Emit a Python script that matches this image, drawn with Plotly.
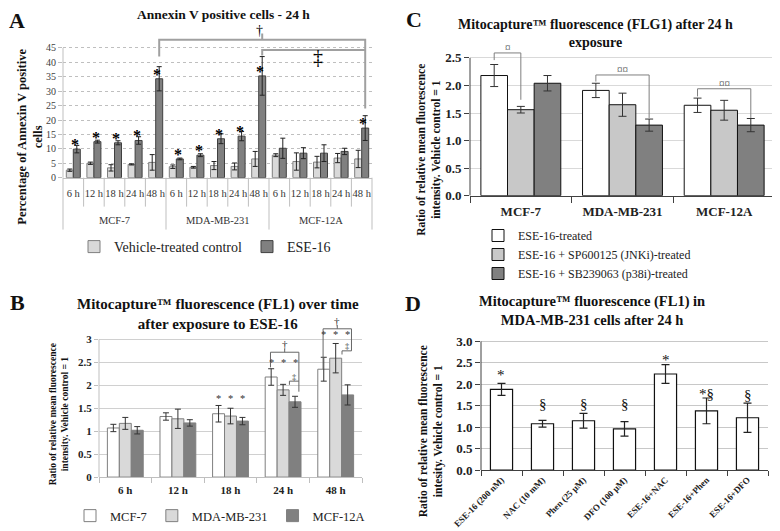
import plotly.graph_objects as go

SERIF = "Liberation Serif"
# the page body adds an 8 px margin, so the figure is drawn 8 px smaller
PAD = 8
W, H = 780 - PAD, 531 - PAD

# ---- panel A: Annexin V positive cells ----
a_lines = ["MCF-7", "MDA-MB-231", "MCF-12A"]
a_times = ["6 h", "12 h", "18 h", "24 h", "48 h"]
a_ctrl = [2.6, 5.0, 3.4, 4.6, 5.3, 3.8, 3.6, 4.2, 3.9, 6.5, 7.8, 5.6, 5.4, 6.8, 6.5]
a_ctrl_err = [0.4, 0.4, 1.1, 0.2, 2.7, 0.6, 0.3, 1.4, 1.2, 2.6, 0.5, 3.0, 2.0, 1.6, 3.0]
a_ese = [9.9, 12.5, 12.1, 12.9, 34.3, 6.5, 7.8, 13.5, 14.4, 35.3, 10.2, 8.5, 8.5, 9.1, 17.2]
a_ese_err = [1.3, 0.5, 0.7, 1.3, 4.2, 0.3, 0.5, 1.7, 1.6, 6.7, 3.5, 1.9, 2.9, 1.1, 4.3]
a_star = [1, 1, 1, 1, 1, 1, 1, 1, 1, 1, 0, 0, 0, 0, 1]

# ---- panel B: FL1 over time ----
b_times = ["6 h", "12 h", "18 h", "24 h", "48 h"]
b_names = ["MCF-7", "MDA-MB-231", "MCF-12A"]
b_vals = [
    [1.07, 1.32, 1.38, 2.18, 2.35],
    [1.17, 1.27, 1.33, 1.90, 2.59],
    [1.02, 1.18, 1.22, 1.64, 1.79],
]
b_errs = [
    [0.08, 0.08, 0.18, 0.18, 0.26],
    [0.13, 0.21, 0.17, 0.12, 0.32],
    [0.08, 0.07, 0.08, 0.12, 0.22],
]

# ---- panel C: FLG1 after 24 h ----
c_lines = ["MCF-7", "MDA-MB-231", "MCF-12A"]
c_names = ["ESE-16-treated", "ESE-16 + SP600125 (JNKi)-treated", "ESE-16 + SB239063 (p38i)-treated"]
c_vals = [
    [2.18, 1.91, 1.64],
    [1.56, 1.65, 1.55],
    [2.04, 1.28, 1.28],
]
c_errs = [
    [0.20, 0.13, 0.13],
    [0.06, 0.21, 0.18],
    [0.14, 0.11, 0.12],
]

# ---- panel D: MDA-MB-231 after 24 h ----
d_cats = ["ESE-16 (200 nM)", "NAC (10 mM)", "Phen (25 µM)", "DFO (100 µM)",
          "ESE-16+NAC", "ESE-16+Phen", "ESE-16+DFO"]
d_vals = [1.88, 1.08, 1.15, 0.96, 2.24, 1.38, 1.22]
d_errs = [0.14, 0.08, 0.17, 0.17, 0.22, 0.30, 0.34]
d_sig = ["*", "§", "§", "§", "*", "*§", "§"]
d_sig_y = [2.22, 1.55, 1.55, 1.55, 2.57, 1.78, 1.76]


def fx(p):
    return (p - PAD) / W


def fy(p):
    return 1 - (p - PAD) / H


fig = go.Figure()

# panel A bars
a_keys = [f"{ln} {t}" for ln in a_lines for t in a_times]
a_bw = 0.34
fig.add_trace(go.Bar(
    x=a_keys, y=a_ctrl, name="Vehicle-treated control", width=a_bw, offset=-a_bw,
    marker=dict(color="#d9d9d9", line=dict(color="#7f7f7f", width=1)),
    error_y=dict(type="data", array=a_ctrl_err, color="#222", thickness=1, width=2.5),
    xaxis="x", yaxis="y", legend="legend"))
fig.add_trace(go.Bar(
    x=a_keys, y=a_ese, name="ESE-16", width=a_bw, offset=0,
    marker=dict(color="#808080", line=dict(color="#404040", width=1)),
    error_y=dict(type="data", array=a_ese_err, color="#222", thickness=1, width=2.5),
    xaxis="x", yaxis="y", legend="legend"))

# panel B bars
b_fill = ["#ffffff", "#d9d9d9", "#808080"]
b_bw = 0.227
for k in range(3):
    fig.add_trace(go.Bar(
        x=b_times, y=b_vals[k], name=b_names[k], width=b_bw, offset=(k - 1.5) * b_bw,
        marker=dict(color=b_fill[k], line=dict(color="#7f7f7f", width=1)),
        error_y=dict(type="data", array=b_errs[k], color="#333", thickness=1, width=3),
        xaxis="x2", yaxis="y2", legend="legend2"))

# panel C bars
c_fill = ["#ffffff", "#c8c8c8", "#808080"]
c_bw = 0.262
for k in range(3):
    fig.add_trace(go.Bar(
        x=c_lines, y=c_vals[k], name=c_names[k], width=c_bw, offset=(k - 1.5) * c_bw,
        marker=dict(color=c_fill[k], line=dict(color="#111", width=1)),
        error_y=dict(type="data", array=c_errs[k], color="#333", thickness=1, width=4),
        xaxis="x3", yaxis="y3", legend="legend3"))

# panel D bars
fig.add_trace(go.Bar(
    x=d_cats, y=d_vals, width=0.54, showlegend=False,
    marker=dict(color="#ffffff", line=dict(color="#111", width=1.2)),
    error_y=dict(type="data", array=d_errs, color="#222", thickness=1.2, width=4),
    xaxis="x4", yaxis="y4"))

ann = []
shapes = []


def text(x, y, t, size, bold=False, xref="paper", yref="paper", color="#111", angle=0):
    if bold:
        t = "<b>" + t + "</b>"
    ann.append(dict(x=x, y=y, xref=xref, yref=yref, text=t, showarrow=False,
                    xanchor="center", yanchor="middle", textangle=angle,
                    font=dict(family=SERIF, size=size, color=color)))


def path(pts, xref, yref, color="#8c8c8c", width=1):
    d = "M" + " L".join(f"{x},{y}" for x, y in pts)
    shapes.append(dict(type="path", path=d, xref=xref, yref=yref,
                       line=dict(color=color, width=width)))


# panel letters and titles
text(fx(17), fy(21), "A", 22, True)
text(fx(17), fy(303), "B", 22, True)
text(fx(414), fy(20), "C", 22, True)
text(fx(413), fy(304), "D", 22, True)
text(fx(223), fy(15), "Annexin V positive cells - 24 h", 13.5, True)
text(fx(218), fy(315), "Mitocapture™ fluorescence (FL1) over time<br>after exposure to ESE-16", 15, True)
text(fx(595), fy(34), "Mitocapture™ fluorescence (FLG1) after 24 h<br>exposure", 14, True)
text(fx(592), fy(311), "Mitocapture™ fluorescence (FL1) in<br>MDA-MB-231 cells after 24 h", 14.5, True)

# axis titles
text(fx(30), fy(137), "Percentage of Annexin V positive<br>cells", 12.5, True, angle=-90)
text(fx(59), fy(415), "Ratio of relative mean fluorescence<br>intensity. Vehicle control = 1", 9.5, True, angle=-90)
text(fx(429), fy(150), "Ratio of relative mean fluorescence<br>intensity. Vehicle control = 1", 11.5, True, angle=-90)
text(fx(431), fy(432), "Ratio of relative mean fluorescence<br>intesity. Vehicle control = 1", 11.5, True, angle=-90)

# panel A: stars, category separators, cell line labels, brackets
na = len(a_ese)
nt = len(a_times)


def afrac(i, off=0.0):
    return (i + 0.5 + off) / na


for i in range(na):
    if a_star[i]:
        text(afrac(i, 0.08), a_ese[i] + 1.6, "*", 16, True, xref="x domain", yref="y", color="#000")
for k in range(na + 1):
    bottom = 230 if k % nt == 0 else 207
    shapes.append(dict(type="line", xref="x domain", yref="paper", x0=k / na, x1=k / na,
                       y0=fy(178), y1=fy(bottom), line=dict(color="#bfbfbf", width=1)))
for g, ln in enumerate(a_lines):
    text((g + 0.5) * nt / na, fy(221), ln, 10.5, xref="x domain", color="#333")
shapes.append(dict(type="line", xref="x domain", yref="y", x0=0, x1=0, y0=0, y1=45,
                   line=dict(color="#bfbfbf", width=1)))
a_e = a_bw / 2
i1, i2, i3 = 4, 9, 14
path([(afrac(i1, a_e), 42.0), (afrac(i1, a_e), 47.8), (afrac(i3, a_e), 47.8), (afrac(i3, a_e), 24.0)],
     "x domain", "y", "#a0a0a0", 2)
path([(afrac(i2, a_e), 47.8), (afrac(i2, a_e), 50.0)], "x domain", "y", "#a0a0a0", 2)
path([(afrac(i2, a_e), 42.4), (afrac(i2, a_e), 44.3), (afrac(i3, a_e), 44.3)], "x domain", "y", "#a0a0a0", 2)
text(afrac(i2, a_e - 0.15), 51.2, "†", 14, xref="x domain", yref="y", color="#000")
text(afrac(11.9), 41.8, "‡", 20, xref="x domain", yref="y", color="#000")

# panel B significance
for j, yv in [(2, 1.72), (3, 2.49), (4, 3.11)]:
    for k in range(3):
        text(j + (k - 1) * b_bw, yv, "*", 10.5, xref="x2", yref="y2", color="#333")
for j, top, lft, rgt in [(3, 2.72, 2.39, 1.86), (4, 3.23, 2.35, 2.75)]:
    xl, xr = j - 0.24, j + 0.3
    path([(xl, lft), (xl, top), (xr, top), (xr, rgt)], "x2", "y2", "#666")
    path([((xl + xr) / 2, top), ((xl + xr) / 2, top + 0.08)], "x2", "y2", "#666")
    text((xl + xr) / 2, top + 0.17, "†", 11, xref="x2", yref="y2", color="#333")
for j, yv in [(3, 2.09), (4, 2.75)]:
    xs, xr = j + 0.12, j + 0.3
    path([(xs, yv - 0.08), (xs, yv), (xr, yv)], "x2", "y2", "#666")
    text((xs + xr) / 2, yv + 0.1, "‡", 8.5, xref="x2", yref="y2", color="#333")
shapes.append(dict(type="line", xref="x2 domain", yref="y2", x0=0, x1=0, y0=0, y1=3,
                   line=dict(color="#bfbfbf", width=1)))

# panel C brackets
for j, top, lft, rgt, k2, lab in [(0, 2.59, 2.46, 1.74, 1, "¤"), (1, 2.19, 2.07, 1.41, 2, "¤¤"),
                                  (2, 1.94, 1.80, 1.41, 2, "¤¤")]:
    xl = j + (0 - 1) * c_bw
    xr = j + (k2 - 1) * c_bw
    path([(xl, lft), (xl, top), (xr, top), (xr, rgt)], "x3", "y3", "#7f7f7f")
    text((xl + xr) / 2, top + 0.11, lab, 11, xref="x3", yref="y3", color="#333")
shapes.append(dict(type="line", xref="x3 domain", yref="y3", x0=0, x1=0, y0=0, y1=2.5,
                   line=dict(color="#404040", width=1)))

# panel D significance
for i, lab in enumerate(d_sig):
    text(i, d_sig_y[i], lab, 15, xref="x4", yref="y4", color="#111")
shapes.append(dict(type="line", xref="x4 domain", yref="y4", x0=0, x1=0, y0=0, y1=3.0,
                   line=dict(color="#404040", width=1)))

tick_a = dict(family=SERIF, size=10, color="#404040")
fig.update_layout(
    width=W, height=H, margin=dict(l=0, r=0, t=0, b=0),
    paper_bgcolor="white", plot_bgcolor="white",
    barmode="overlay", font=dict(family=SERIF, color="#222"),
    annotations=ann, shapes=shapes,
    xaxis=dict(domain=[fx(63), fx(372)], anchor="y", type="category", automargin=False,
               range=[-0.5, na - 0.5], tickvals=a_keys, ticktext=a_times * len(a_lines),
               ticks="outside", ticklen=6, tickcolor="rgba(0,0,0,0)",
               showline=True, linecolor="#bfbfbf", tickangle=0,
               tickfont=dict(family=SERIF, size=10.5, color="#333"), showgrid=False),
    yaxis=dict(domain=[fy(178), fy(178 - 54 * 130 / 45)], anchor="x", range=[0, 54],
               automargin=False,
               tickvals=list(range(0, 50, 5)), showgrid=True, gridcolor="#bfbfbf",
               griddash="dot", zeroline=False, ticks="outside", ticklen=4,
               tickcolor="#bfbfbf", tickfont=tick_a),
    xaxis2=dict(domain=[fx(99), fx(362)], anchor="y2", range=[-0.5, 4.5], showline=True,
                automargin=False, ticklabelstandoff=3,
                linecolor="#bfbfbf", ticks="outside", tickson="boundaries", ticklen=5,
                tickcolor="#bfbfbf", tickfont=dict(family=SERIF, size=11, color="#222"),
                tickprefix="<b>", ticksuffix="</b>"),
    yaxis2=dict(domain=[fy(478), fy(478 - 3.45 * 46)], anchor="x2", range=[0, 3.45],
                automargin=False,
                tickvals=[0, 0.5, 1, 1.5, 2, 2.5, 3], ticktext=["<b>0</b>", "<b>0.5</b>", "<b>1</b>",
                                                             "<b>1.5</b>", "<b>2</b>", "<b>2.5</b>", "<b>3</b>"],
                gridcolor="#d0d0d0", zeroline=False, ticks="outside", ticklen=4,
                tickcolor="#bfbfbf", tickfont=dict(family=SERIF, size=11, color="#222")),
    xaxis3=dict(domain=[fx(470), fx(775)], anchor="y3", range=[-0.5, 2.5], showline=True,
                automargin=False, ticklabelstandoff=4,
                linecolor="#404040", ticks="outside", tickson="boundaries", ticklen=6,
                tickcolor="#404040", tickfont=dict(family=SERIF, size=13, color="#222"),
                tickprefix="<b>", ticksuffix="</b>"),
    yaxis3=dict(domain=[fy(196), fy(196 - 2.75 * 55.2)], anchor="x3", range=[0, 2.75],
                automargin=False,
                tickvals=[0, 0.5, 1, 1.5, 2, 2.5],
                ticktext=["<b>%.1f</b>" % v for v in [0, 0.5, 1, 1.5, 2, 2.5]],
                gridcolor="#d9d9d9", zeroline=False, ticks="outside", ticklen=5,
                tickcolor="#404040", tickfont=dict(family=SERIF, size=13, color="#222")),
    xaxis4=dict(domain=[fx(481), fx(768)], anchor="y4", range=[-0.5, 6.5], showline=True,
                automargin=False,
                linecolor="#404040", ticks="outside", tickson="boundaries", ticklen=5,
                tickcolor="#404040", tickangle=-45,
                tickfont=dict(family=SERIF, size=9, color="#222"),
                tickprefix="<b>", ticksuffix="</b>"),
    yaxis4=dict(domain=[fy(471), fy(471 - 3.1 * 43)], anchor="x4", range=[0, 3.1],
                automargin=False,
                tickvals=[0, 0.5, 1, 1.5, 2, 2.5, 3],
                ticktext=["<b>%.1f</b>" % v for v in [0, 0.5, 1, 1.5, 2, 2.5, 3]],
                gridcolor="#c8c8c8", zeroline=False, ticks="outside", ticklen=5,
                tickcolor="#404040", tickfont=dict(family=SERIF, size=13, color="#222")),
    legend=dict(orientation="h", x=fx(74), y=fy(247), xanchor="left", yanchor="middle",
                font=dict(family=SERIF, size=14, color="#222"), bgcolor="rgba(0,0,0,0)"),
    legend2=dict(orientation="h", x=fx(70), y=fy(517), xanchor="left", yanchor="middle",
                 font=dict(family=SERIF, size=12.5, color="#222"), bgcolor="rgba(0,0,0,0)"),
    legend3=dict(orientation="v", x=fx(478), y=fy(221), xanchor="left", yanchor="top",
                 font=dict(family=SERIF, size=12, color="#222"), bgcolor="rgba(0,0,0,0)",
                 tracegroupgap=0),
)

fig.write_html("out.html")
